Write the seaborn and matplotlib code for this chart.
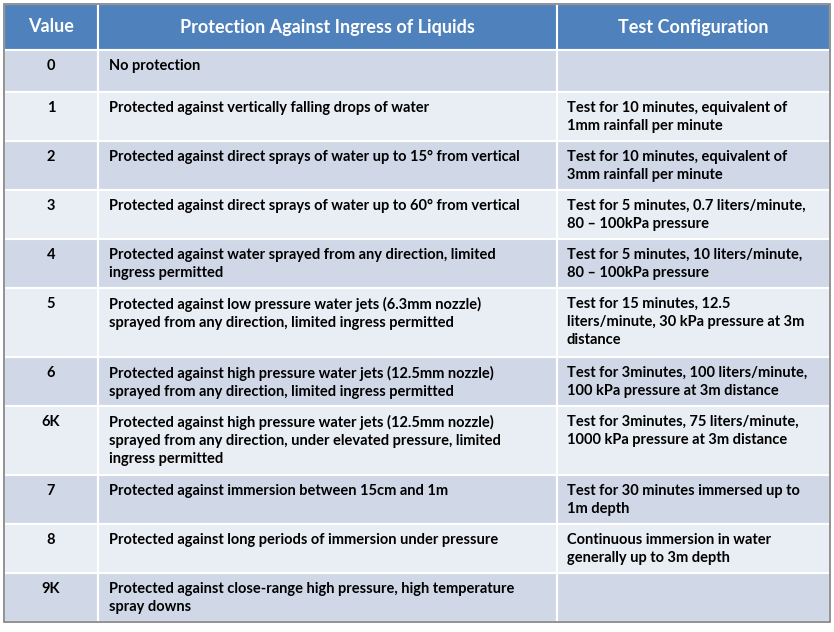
import matplotlib.pyplot as plt
import seaborn as sns
from matplotlib.patches import Rectangle

headers = ["Value", "Protection Against Ingress of Liquids", "Test Configuration"]
values = ["0", "1", "2", "3", "4", "5", "6", "6K", "7", "8", "9K"]
protections = [
    "No protection",
    "Protected against vertically falling drops of water",
    "Protected against direct sprays of water up to 15° from vertical",
    "Protected against direct sprays of water up to 60° from vertical",
    "Protected against water sprayed from any direction, limited\ningress permitted",
    "Protected against low pressure water jets (6.3mm nozzle)\nsprayed from any direction, limited ingress permitted",
    "Protected against high pressure water jets (12.5mm nozzle)\nsprayed from any direction, limited ingress permitted",
    "Protected against high pressure water jets (12.5mm nozzle)\nsprayed from any direction, under elevated pressure, limited\ningress permitted",
    "Protected against immersion between 15cm and 1m",
    "Protected against long periods of immersion under pressure",
    "Protected against close-range high pressure, high temperature\nspray downs",
]
tests = [
    "",
    "Test for 10 minutes, equivalent of\n1mm rainfall per minute",
    "Test for 10 minutes, equivalent of\n3mm rainfall per minute",
    "Test for 5 minutes, 0.7 liters/minute,\n80 – 100kPa pressure",
    "Test for 5 minutes, 10 liters/minute,\n80 – 100kPa pressure",
    "Test for 15 minutes, 12.5\nliters/minute, 30 kPa pressure at 3m\ndistance",
    "Test for 3minutes, 100 liters/minute,\n100 kPa pressure at 3m distance",
    "Test for 3minutes, 75 liters/minute,\n1000 kPa pressure at 3m distance",
    "Test for 30 minutes immersed up to\n1m depth",
    "Continuous immersion in water\ngenerally up to 3m depth",
    "",
]

sns.set_style("white")
W, H = 834, 632
fig = plt.figure(figsize=(W / 100, H / 100), dpi=100)
ax = fig.add_axes([0, 0, 1, 1])
ax.set_xlim(0, W)
ax.set_ylim(H, 0)
ax.axis("off")

col_x = [4, 98, 557, 830]
header_color = "#4F81BD"
band = ["#D0D8E8", "#E9EDF4"]
font = "Lato"

# header
top, hh = 4, 46
for i, h in enumerate(headers):
    ax.add_patch(Rectangle((col_x[i], top), col_x[i + 1] - col_x[i], hh,
                           facecolor=header_color, edgecolor="white", lw=1.5))
    ax.text((col_x[i] + col_x[i + 1]) / 2, top + hh / 2, h, ha="center", va="center",
            color="white", fontsize=13, fontweight="bold", family=font)

y = top + hh
for r, (v, p, t) in enumerate(zip(values, protections, tests)):
    nlines = max(p.count("\n"), t.count("\n")) + 1
    rh = 42 if r == 0 else (49 if nlines <= 2 else 69)
    for i in range(3):
        ax.add_patch(Rectangle((col_x[i], y), col_x[i + 1] - col_x[i], rh,
                               facecolor=band[r % 2], edgecolor="white", lw=1.5))
    ax.text((col_x[0] + col_x[1]) / 2, y + 9, v, ha="center", va="top",
            fontsize=10.5, fontweight="bold", family=font, color="black", linespacing=1.35)
    ax.text(col_x[1] + 11, y + 9, p, ha="left", va="top",
            fontsize=10.5, fontweight="bold", family=font, color="black", linespacing=1.35)
    ax.text(col_x[2] + 10, y + 9, t, ha="left", va="top",
            fontsize=10.5, fontweight="bold", family=font, color="black", linespacing=1.35)
    y += rh

ax.add_patch(Rectangle((col_x[0], top), col_x[-1] - col_x[0], y - top,
                       facecolor="none", edgecolor="#7F7F7F", lw=1.2))

fig.savefig("out.png", dpi=100)
